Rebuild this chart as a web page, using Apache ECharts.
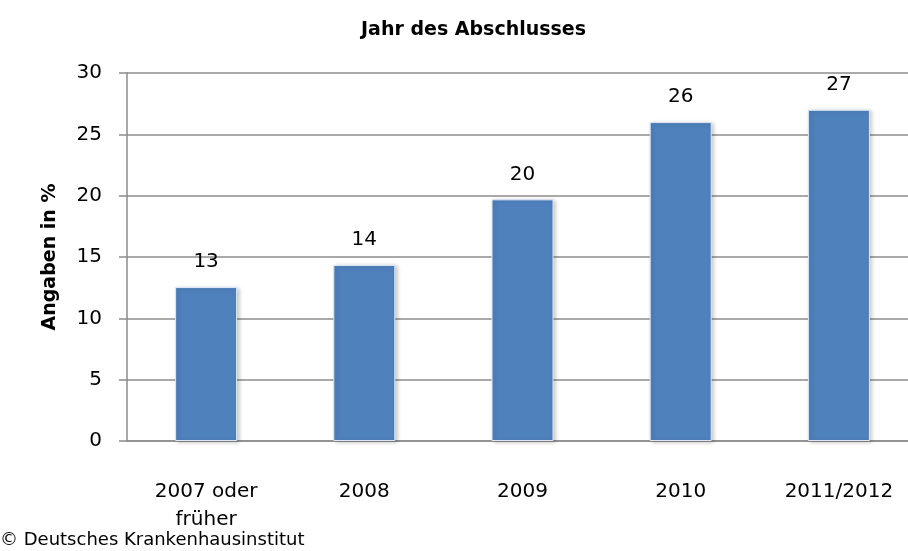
<!DOCTYPE html>
<html>
<head>
<meta charset="utf-8">
<script src="https://cdn.jsdelivr.net/npm/echarts@6/dist/echarts.min.js"></script>
<style>html,body{margin:0;padding:0;background:#fff}#c{width:908px;height:551px}</style>
</head>
<body>
<div id="c"></div>
<script>
var categories = ['2007 oder\nfrüher', '2008', '2009', '2010', '2011/2012'];
var values = [12.55, 14.35, 19.7, 26.0, 27.0];
var valueLabels = ['13', '14', '20', '26', '27'];
var yTicks = [0, 5, 10, 15, 20, 25, 30];

var FONT = 'DejaVu Sans';
var chart = echarts.init(document.getElementById('c'), null, {renderer: 'canvas'});
chart.setOption({
  animation: false,
  backgroundColor: '#ffffff',
  title: [{
    text: 'Jahr des Abschlusses',
    left: 356, top: 16,
    textStyle: {fontFamily: FONT, fontSize: 19, fontWeight: 'bold', color: '#000'}
  }, {
    text: '© Deutsches Krankenhausinstitut',
    left: 0, top: 531,
    padding: 0,
    textStyle: {fontFamily: FONT, fontSize: 18, fontWeight: 'normal', color: '#000'}
  }],
  grid: {left: 127, top: 73, width: 791, height: 368, containLabel: false, outerBoundsMode: 'none'},
  xAxis: {
    type: 'category',
    data: categories,
    axisLine: {show: true, lineStyle: {color: '#8c8c8c', width: 1.5}},
    axisTick: {show: false},
    axisLabel: {fontFamily: FONT, fontSize: 20, color: '#000', margin: 37, lineHeight: 28, interval: 0}
  },
  yAxis: {
    type: 'value',
    min: yTicks[0], max: yTicks[yTicks.length - 1], interval: 5,
    name: 'Angaben in %',
    nameLocation: 'middle', nameGap: 67, nameRotate: 90,
    nameTextStyle: {fontFamily: FONT, fontSize: 19, fontWeight: 'bold', color: '#000'},
    axisLine: {show: true, lineStyle: {color: '#8c8c8c', width: 1.5}},
    axisTick: {show: true, inside: false, length: 8, lineStyle: {color: '#8c8c8c', width: 1.5}},
    axisLabel: {fontFamily: FONT, fontSize: 20, color: '#000', margin: 25},
    splitLine: {show: true, lineStyle: {color: '#8c8c8c', width: 1.5}}
  },
  series: [{
    type: 'bar',
    data: values,
    barWidth: 62,
    itemStyle: {
      color: '#4f81bd',
      borderColor: '#dfe8f3', borderWidth: 1,
      shadowColor: 'rgba(0,0,0,0.22)', shadowBlur: 4, shadowOffsetX: 2, shadowOffsetY: 1
    },
    label: {
      show: true, position: 'top', distance: 15,
      fontFamily: FONT, fontSize: 20, color: '#000',
      formatter: function (p) { return valueLabels[p.dataIndex]; }
    }
  }]
});
</script>
</body>
</html>
